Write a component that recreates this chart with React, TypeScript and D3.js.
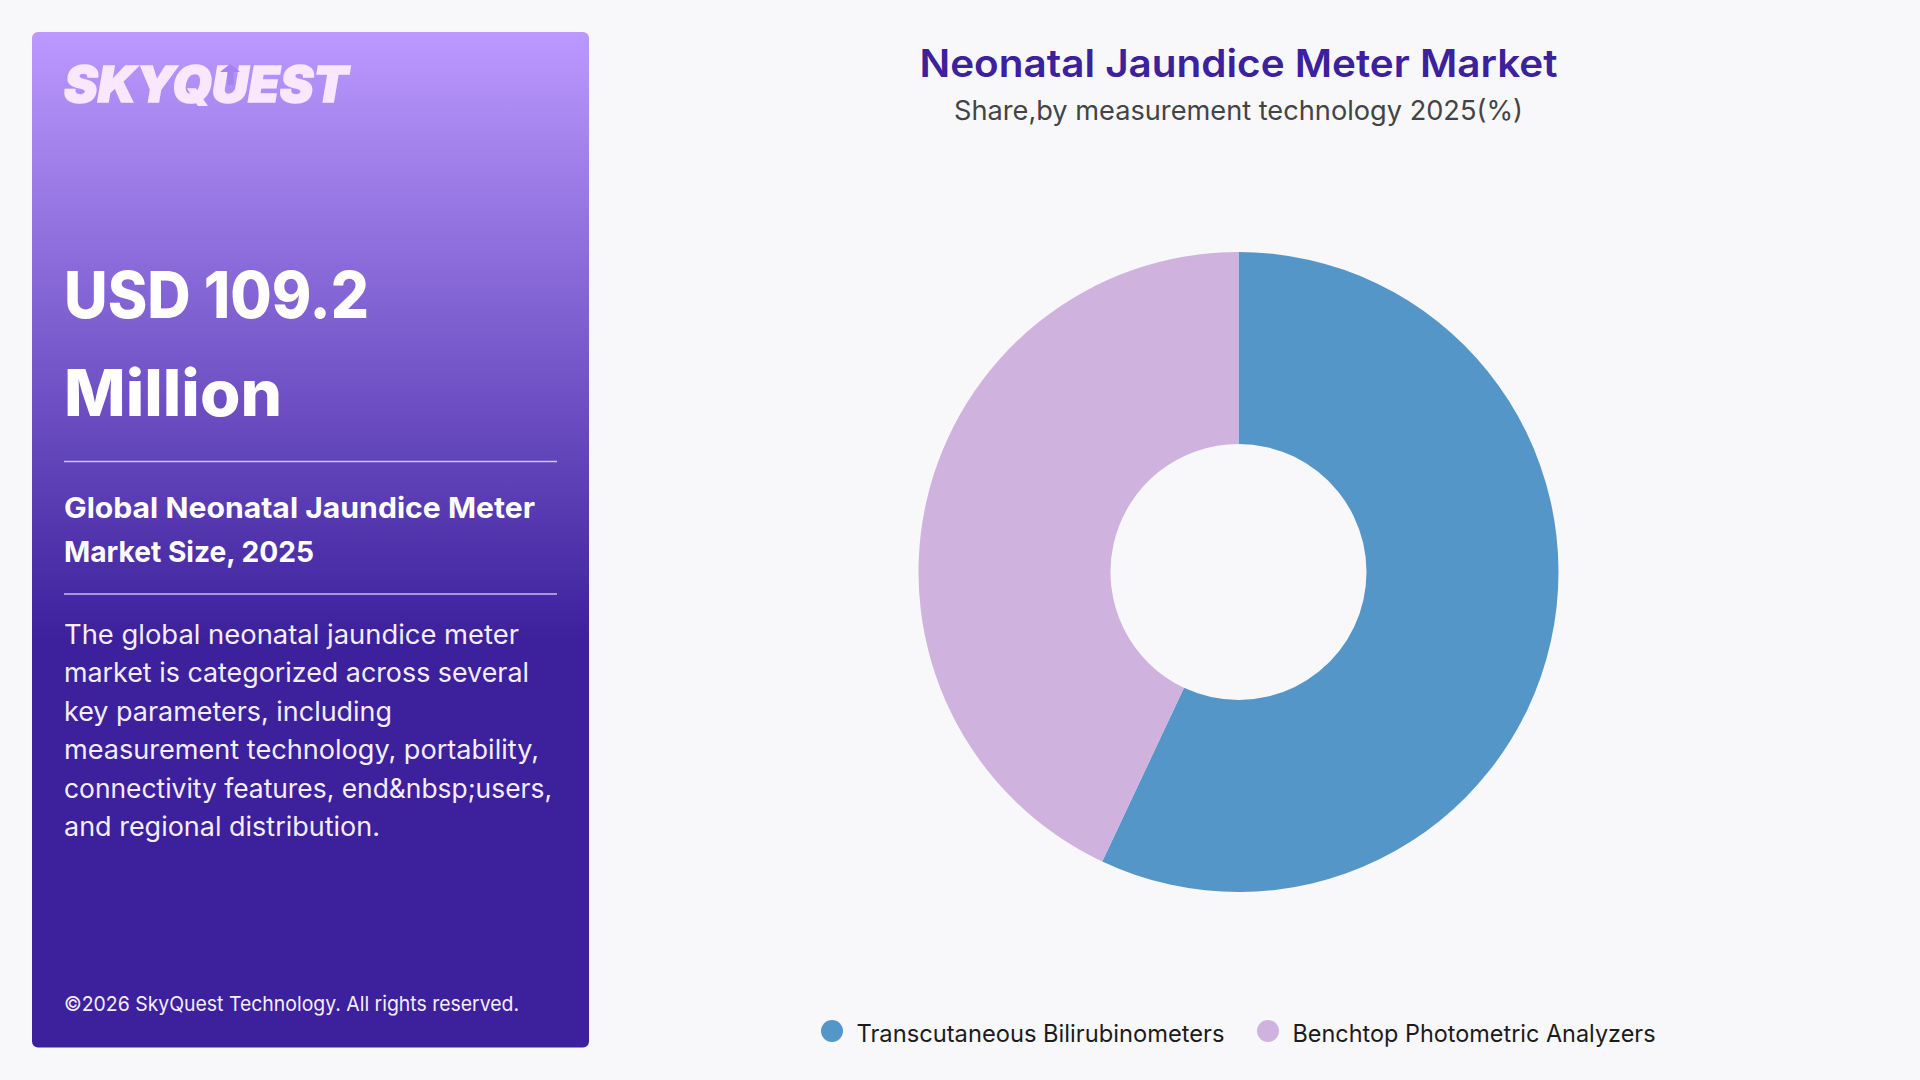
import * as d3 from "d3";

const categories = ["Transcutaneous Bilirubinometers", "Benchtop Photometric Analyzers"];
const shares = [57, 43];
const colors = ["#5596c8", "#cfb3de"];

const headlineLines = ["USD 109.2", "Million"];
const sizeLines = ["Global Neonatal Jaundice Meter", "Market Size, 2025"];
const bodyLines = [
  "The global neonatal jaundice meter",
  "market is categorized across several",
  "key parameters, including",
  "measurement technology, portability,",
  "connectivity features, end&nbsp;users,",
  "and regional distribution.",
];
const footer = "©2026 SkyQuest Technology. All rights reserved.";
const title = "Neonatal Jaundice Meter Market";
const subtitle = "Share,by measurement technology 2025(%)";

const font = "Inter, 'Open Sans', sans-serif";
const panelLeft = 64;

export default function App() {
  const cx = 1238.5;
  const cy = 572;
  const pie = d3.pie<number>().sort(null)(shares);
  const arc = d3.arc<d3.PieArcDatum<number>>().innerRadius(128).outerRadius(320);

  const headlineW = [305, 218];
  const sizeW = [471, 250];
  const bodyW = [455, 465, 328, 475, 488, 316];

  return (
    <svg
      width={1920}
      height={1080}
      style={{ position: "fixed", left: 0, top: 0, background: "#f8f8fb" }}
      fontFamily={font}
    >
      <defs>
        <linearGradient id="panel" x1="0" y1="0" x2="0" y2="1">
          <stop offset="0" stopColor="#bb99ff" />
          <stop offset="0.6" stopColor="#3c209c" />
          <stop offset="1" stopColor="#3c209c" />
        </linearGradient>
      </defs>

      <rect x={32} y={32} width={557} height={1015.5} rx={6} fill="url(#panel)" />
      <text
        x={panelLeft}
        y={102}
        fontSize={50}
        fontWeight={900}
        fontStyle="italic"
        fill="#f9e6ff"
        stroke="#f9e6ff"
        strokeWidth={1.5}
        textLength={284}
        lengthAdjust="spacingAndGlyphs"
      >
        SKYQUEST
      </text>
      {/* the arrow cut into the U of the logo */}
      <path d="M230 64 L240 72 L233.5 72 L233.5 85 L227.5 85 L227.5 72 L220 72 Z" fill="#a582ec" />

      {headlineLines.map((d, i) => (
        <text
          key={d}
          x={panelLeft}
          y={318 + i * 98}
          fontSize={64}
          fontWeight={800}
          fill="#fff"
          textLength={headlineW[i]}
          lengthAdjust="spacingAndGlyphs"
        >
          {d}
        </text>
      ))}
      <line x1={64} x2={557} y1={461.5} y2={461.5} stroke="#fff" strokeOpacity={0.7} strokeWidth={1.5} />
      {sizeLines.map((d, i) => (
        <text
          key={d}
          x={panelLeft}
          y={518 + i * 44}
          fontSize={29}
          fontWeight={700}
          fill="#fff"
          textLength={sizeW[i]}
          lengthAdjust="spacingAndGlyphs"
        >
          {d}
        </text>
      ))}
      <line x1={64} x2={557} y1={594} y2={594} stroke="#fff" strokeOpacity={0.7} strokeWidth={1.5} />
      {bodyLines.map((d, i) => (
        <text
          key={d}
          x={panelLeft}
          y={644 + i * 38.4}
          fontSize={26.5}
          fill="#f4eefc"
          textLength={bodyW[i]}
          lengthAdjust="spacingAndGlyphs"
        >
          {d}
        </text>
      ))}
      <text
        x={panelLeft}
        y={1011}
        fontSize={20.5}
        fill="#f4eefc"
        textLength={455}
        lengthAdjust="spacingAndGlyphs"
      >
        {footer}
      </text>

      <text
        x={cx}
        y={77}
        textAnchor="middle"
        fontSize={38}
        fontWeight={600}
        fill="#3c209c"
        textLength={638}
        lengthAdjust="spacingAndGlyphs"
      >
        {title}
      </text>
      <text
        x={cx}
        y={120}
        textAnchor="middle"
        fontSize={27}
        fill="#444444"
        textLength={569}
        lengthAdjust="spacingAndGlyphs"
      >
        {subtitle}
      </text>

      <g transform={`translate(${cx},${cy})`}>
        {pie.map((d, i) => (
          <path key={categories[i]} d={arc(d) ?? ""} fill={colors[i]} />
        ))}
      </g>

      {categories.map((d, i) => {
        const x = [832, 1268][i];
        return (
          <g key={d}>
            <circle cx={x} cy={1031} r={11} fill={colors[i]} />
            <text
              x={x + 24.5}
              y={1042}
              fontSize={24}
              fill="#1c1c1c"
              textLength={[368, 363][i]}
              lengthAdjust="spacingAndGlyphs"
            >
              {d}
            </text>
          </g>
        );
      })}
    </svg>
  );
}
